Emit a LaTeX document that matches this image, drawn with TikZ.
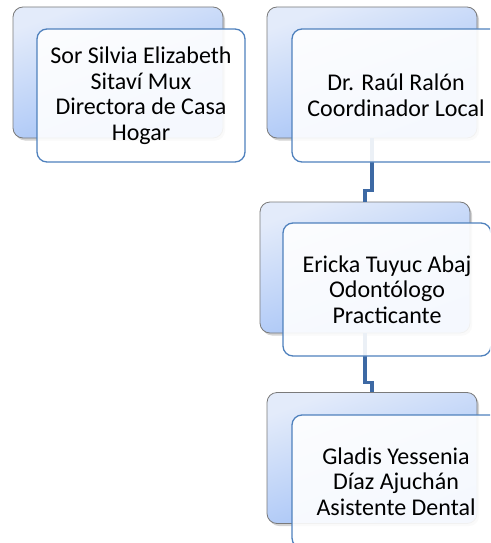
\documentclass[tikz,border=0pt]{standalone}
\usepackage{fontspec}
\setmainfont{Carlito}
\usetikzlibrary{shadows,calc}
\definecolor{backtop}{HTML}{E3EBFA}
\definecolor{backbot}{HTML}{9CBDF6}
\definecolor{backline}{HTML}{7A7A7A}
\definecolor{frontline}{HTML}{4F81BD}
\definecolor{connline}{HTML}{3D69A4}
\tikzset{
  backbox/.style={rectangle, rounded corners=10pt, minimum width=210pt, minimum height=131pt,
    draw=backline, line width=0.8pt, top color=backtop, bottom color=backbot, shading angle=20,
    drop shadow={opacity=0.35, shadow xshift=2pt, shadow yshift=-2.5pt}},
  frontbox/.style={rectangle, rounded corners=10pt, minimum width=208pt, minimum height=133pt,
    draw=frontline, line width=1.3pt, fill=white, fill opacity=0.9, text opacity=1,
    align=center, font=\fontsize{24pt}{25.5pt}\selectfont},
  conn/.style={draw=connline, line width=3.5pt, line join=miter}
}
\begin{document}
\begin{tikzpicture}[x=1pt,y=1pt]
\useasboundingbox (0,0) rectangle (490,-543);
\clip (0,0) rectangle (490,-543);
% back boxes
\node[backbox] (b1) at (118,-72.5) {};
\node[backbox] (b2) at (372,-72.5) {};
\node[backbox] (b3) at (365,-267.5) {};
\node[backbox] (b4) at (372,-458) {};
% connectors
\draw[conn] (b2.south) -- ++(0,-52) -| (b3.north);
\draw[conn] (b3.south) -- ++(0,-49) -| (b4.north);
% front boxes
\node[frontbox] (f1) at (141,-95.5) {Sor Silvia Elizabeth\\Sitaví Mux\\Directora de Casa\\Hogar};
\node[frontbox] (f2) at (396,-95.5) {Dr. Raúl Ralón\\Coordinador Local};
\node[frontbox] (f3) at (387,-289.5) {Ericka Tuyuc Abaj\\Odontólogo\\Practicante};
\node[frontbox] (f4) at (396,-481.5) {Gladis Yessenia\\Díaz Ajuchán\\Asistente Dental};
\end{tikzpicture}
\end{document}
